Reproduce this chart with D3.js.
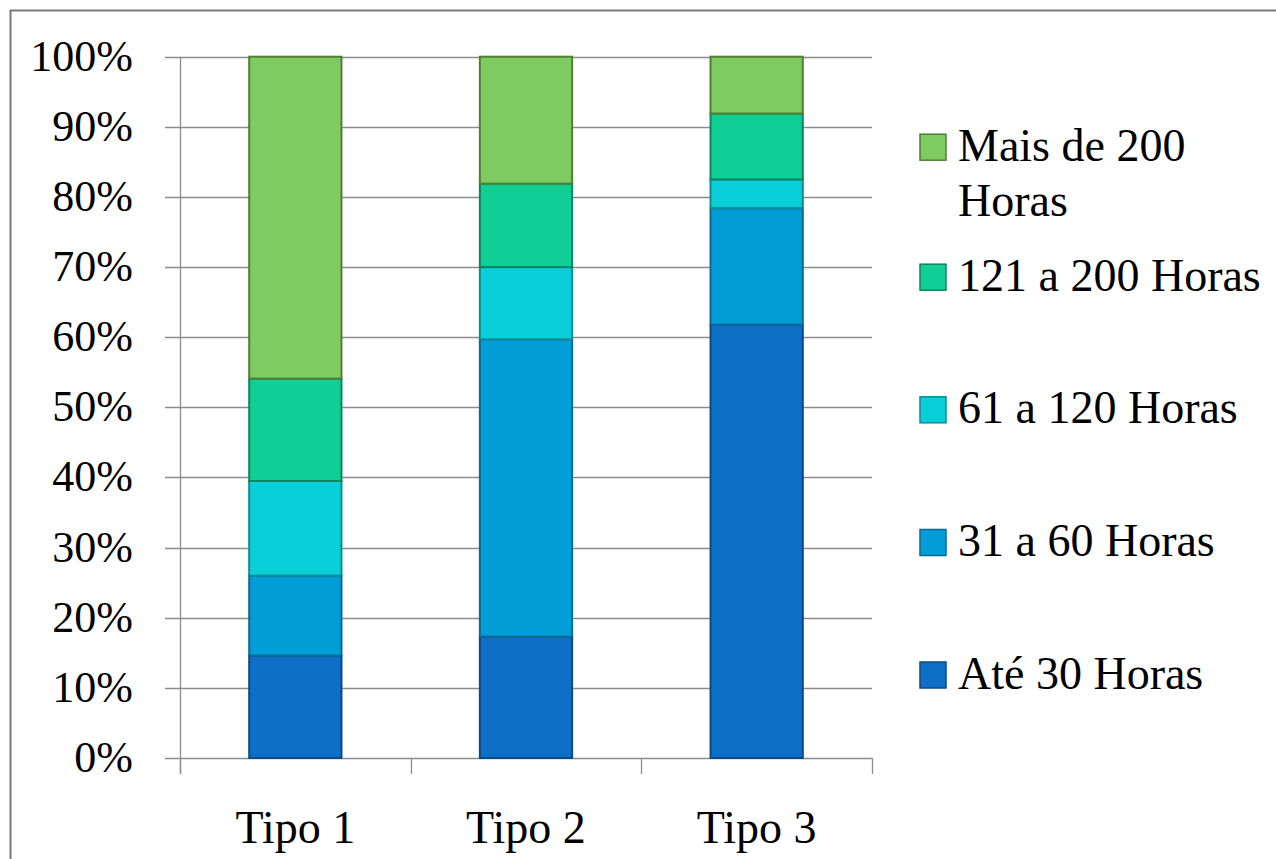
<!DOCTYPE html>
<html>
<head>
<meta charset="utf-8">
<script src="https://cdn.jsdelivr.net/npm/d3@7"></script>
<style>
  html, body { margin: 0; padding: 0; background: #fff; }
  svg { display: block; }
  text { font-family: "Liberation Serif", "DejaVu Serif", serif; fill: #000; }
</style>
</head>
<body>
<svg id="chart" width="1276" height="859"></svg>
<script>
// Categories along the horizontal axis
const categories = ["Tipo 1", "Tipo 2", "Tipo 3"];

// Share of each hour band per type (percent, each column sums to 100)
const ate30    = [14.6, 17.3, 61.8];
const h31a60   = [11.4, 42.4, 16.6];
const h61a120  = [13.5, 10.3, 4.1];
const h121a200 = [14.6, 11.9, 9.4];
const mais200  = [45.9, 18.1, 8.1];

// Series names, bottom of the stack first
const seriesNames = ["Até 30 Horas", "31 a 60 Horas", "61 a 120 Horas", "121 a 200 Horas", "Mais de 200 Horas"];
const seriesValues = [ate30, h31a60, h61a120, h121a200, mais200];

// Vertical axis tick values and labels
const yTickValues = [0, 10, 20, 30, 40, 50, 60, 70, 80, 90, 100];
const yTickLabels = ["0%", "10%", "20%", "30%", "40%", "50%", "60%", "70%", "80%", "90%", "100%"];

const fills   = ["#0E6FC6", "#019DD6", "#0ACFD8", "#11CE95", "#7ECB62"];
const strokes = ["#0B4A86", "#0A6A96", "#0F8B95", "#0E8560", "#4F7F35"];

const svg = d3.select("#chart");

// outer frame
svg.append("path")
  .attr("d", "M10.5,859 L10.5,10.5 L1276,10.5")
  .attr("fill", "none")
  .attr("stroke", "#7a7a7a")
  .attr("stroke-width", 2);

const plotLeft = 180, plotRight = 872, plotTop = 56.7, plotBottom = 758;

const x = d3.scaleBand()
  .domain(categories)
  .range([plotLeft, plotRight])
  .paddingInner(0.6)
  .paddingOuter(0.3);

const y = d3.scaleLinear()
  .domain([0, 100])
  .range([plotBottom, plotTop]);

// rows for the stack layout
const rows = categories.map((c, i) => {
  const r = { category: c };
  seriesNames.forEach((s, j) => { r[s] = seriesValues[j][i]; });
  return r;
});
const stacked = d3.stack().keys(seriesNames)(rows);

// gridlines (extend left as tick marks)
const gridColor = "#8c8c8c";
svg.append("g")
  .selectAll("line")
  .data(yTickValues)
  .join("line")
  .attr("x1", plotLeft - 15)
  .attr("x2", plotRight)
  .attr("y1", d => Math.round(y(d)) + 0.5)
  .attr("y2", d => Math.round(y(d)) + 0.5)
  .attr("stroke", gridColor)
  .attr("stroke-width", 1.3);

// y axis labels
svg.append("g")
  .selectAll("text")
  .data(yTickValues)
  .join("text")
  .attr("x", 133)
  .attr("y", d => y(d) + 14)
  .attr("text-anchor", "end")
  .attr("font-size", 44)
  .text((d, i) => yTickLabels[i]);

// vertical axis line
svg.append("line")
  .attr("x1", plotLeft + 0.5).attr("x2", plotLeft + 0.5)
  .attr("y1", plotTop).attr("y2", plotBottom + 16)
  .attr("stroke", gridColor).attr("stroke-width", 1.3);

// category boundary tick marks
const step = x.step();
const boundaries = [0, 1, 2, 3].map(i => plotLeft + i * step);
svg.append("g")
  .selectAll("line")
  .data(boundaries)
  .join("line")
  .attr("x1", d => Math.round(d) + 0.5)
  .attr("x2", d => Math.round(d) + 0.5)
  .attr("y1", plotBottom)
  .attr("y2", plotBottom + 16)
  .attr("stroke", gridColor)
  .attr("stroke-width", 1.3);

// stacked bars
stacked.forEach((layer, j) => {
  svg.append("g")
    .selectAll("rect")
    .data(layer)
    .join("rect")
    .attr("x", d => x(d.data.category))
    .attr("width", x.bandwidth())
    .attr("y", d => y(d[1]))
    .attr("height", d => y(d[0]) - y(d[1]))
    .attr("fill", fills[j])
    .attr("stroke", strokes[j])
    .attr("stroke-width", 2);
});

// category labels
svg.append("g")
  .selectAll("text")
  .data(categories)
  .join("text")
  .attr("x", d => x(d) + x.bandwidth() / 2)
  .attr("y", 843)
  .attr("text-anchor", "middle")
  .attr("font-size", 46)
  .text(d => d);

// legend, top entry is the last series
const legendOrder = d3.range(seriesNames.length).reverse();
const legendBaselines = [160.7, 290.7, 423.3, 556, 688.5];
const legendLines = {
  "Mais de 200 Horas": ["Mais de 200", "Horas"]
};
const legend = svg.append("g");
legendOrder.forEach((j, k) => {
  const base = legendBaselines[k];
  const name = seriesNames[j];
  legend.append("rect")
    .attr("x", 920).attr("y", base - 26.5)
    .attr("width", 26).attr("height", 26)
    .attr("fill", fills[j])
    .attr("stroke", strokes[j])
    .attr("stroke-width", 1.5);
  const lines = legendLines[name] || [name];
  const t = legend.append("text")
    .attr("x", 958)
    .attr("y", base)
    .attr("font-size", 46);
  lines.forEach((ln, li) => {
    t.append("tspan")
      .attr("x", 958)
      .attr("dy", li === 0 ? 0 : 55.5)
      .text(ln);
  });
});
</script>
</body>
</html>
